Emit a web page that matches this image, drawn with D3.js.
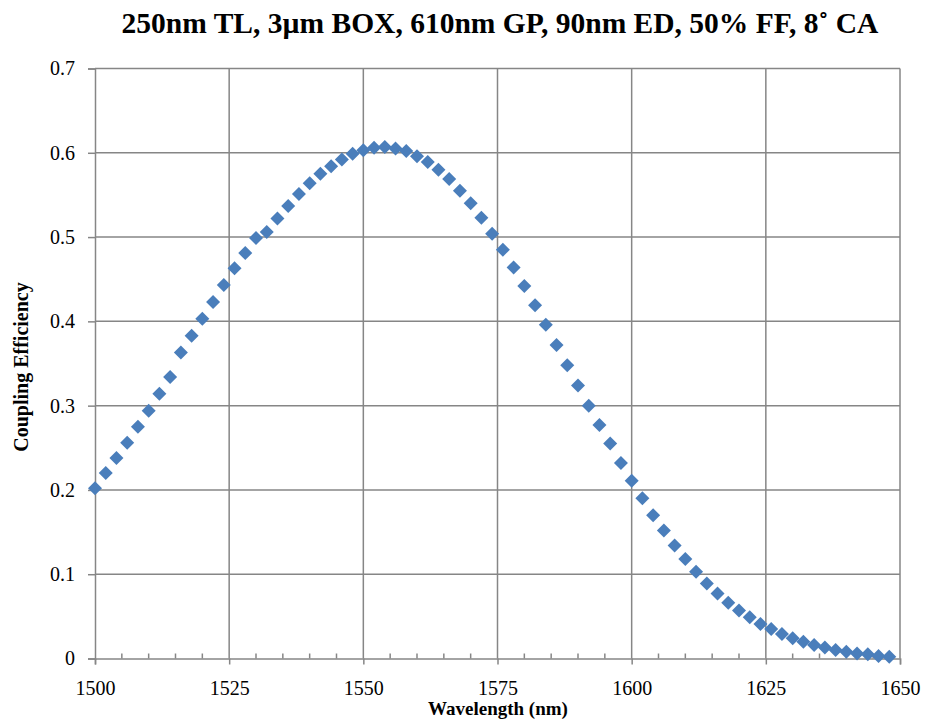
<!DOCTYPE html>
<html>
<head>
<meta charset="utf-8">
<script src="https://cdn.jsdelivr.net/npm/d3@7"></script>
<style>
  body { margin: 0; background: #fff; }
  text { font-family: "Liberation Serif", "Times New Roman", serif; fill: #000; }
</style>
</head>
<body>
<svg id="chart"></svg>
<script>
const wavelength = d3.range(1500, 1650, 2);
const efficiency = [
  0.202, 0.220, 0.238, 0.256, 0.275, 0.294, 0.314, 0.334, 0.363, 0.383,
  0.403, 0.423, 0.443, 0.463, 0.481, 0.499, 0.506, 0.522, 0.537, 0.551,
  0.564, 0.575, 0.584, 0.592, 0.599, 0.603, 0.606, 0.607, 0.605, 0.602,
  0.596, 0.589, 0.580, 0.569, 0.555, 0.540, 0.523, 0.504, 0.485, 0.464,
  0.442, 0.419, 0.396, 0.372, 0.348, 0.324, 0.300, 0.277, 0.255, 0.232,
  0.211, 0.190, 0.170, 0.152, 0.134, 0.118, 0.103, 0.089, 0.077, 0.066,
  0.057, 0.049, 0.041, 0.035, 0.029, 0.024, 0.020, 0.016, 0.013, 0.010,
  0.008, 0.006, 0.005, 0.003, 0.002
];
const xTicks = [1500, 1525, 1550, 1575, 1600, 1625, 1650];
const yTicks = [0, 0.1, 0.2, 0.3, 0.4, 0.5, 0.6, 0.7];

const width = 927, height = 720;
const margin = { top: 68.5, right: 27, bottom: 61.5, left: 95 };

const svg = d3.select("#chart").attr("width", width).attr("height", height);

const x = d3.scaleLinear().domain([1500, 1650]).range([margin.left, width - margin.right]);
const y = d3.scaleLinear().domain([0, 0.7]).range([height - margin.bottom, margin.top]);

const gridColor = "#868686";

// gridlines
svg.append("g")
  .selectAll("line.h")
  .data(yTicks.slice(1))
  .join("line")
  .attr("x1", margin.left).attr("x2", width - margin.right)
  .attr("y1", d => y(d)).attr("y2", d => y(d))
  .attr("stroke", gridColor).attr("stroke-width", 1.5);

svg.append("g")
  .selectAll("line.v")
  .data(xTicks.slice(1))
  .join("line")
  .attr("x1", d => x(d)).attr("x2", d => x(d))
  .attr("y1", margin.top).attr("y2", y(0))
  .attr("stroke", gridColor).attr("stroke-width", 1.5);

// x axis
const xAxis = svg.append("g")
  .attr("transform", `translate(0,${y(0)})`)
  .call(d3.axisBottom(x).tickValues(xTicks).tickFormat(d3.format("d")).tickSize(6).tickPadding(16));
xAxis.select(".domain").attr("stroke", gridColor).attr("stroke-width", 1.5);
xAxis.selectAll(".tick line").attr("stroke", gridColor).attr("stroke-width", 1.5);
xAxis.selectAll("text").style("font-size", "20px").style("font-family", "Liberation Serif");

// minor ticks on x axis (inside)
svg.append("g")
  .selectAll("line")
  .data(d3.range(1505, 1650, 5).filter(d => d % 25 !== 0))
  .join("line")
  .attr("x1", d => x(d)).attr("x2", d => x(d))
  .attr("y1", y(0) - 5).attr("y2", y(0))
  .attr("stroke", gridColor).attr("stroke-width", 1.5);

// y axis
const yAxis = svg.append("g")
  .attr("transform", `translate(${margin.left},0)`)
  .call(d3.axisLeft(y).tickValues(yTicks).tickFormat(d => d === 0 ? "0" : d3.format(".1f")(d)).tickSize(7).tickPadding(13));
yAxis.select(".domain").attr("stroke", gridColor).attr("stroke-width", 1.5);
yAxis.selectAll(".tick line").attr("stroke", gridColor).attr("stroke-width", 1.5);
yAxis.selectAll("text").style("font-size", "20px").style("font-family", "Liberation Serif");

// points
const diamond = d3.symbol().type(d3.symbolSquare).size(98);
svg.append("g")
  .selectAll("path")
  .data(wavelength.map((w, i) => [w, efficiency[i]]))
  .join("path")
  .attr("d", diamond)
  .attr("transform", d => `translate(${x(d[0])},${y(d[1])}) rotate(45)`)
  .attr("fill", "#4a7ebb");

// title
svg.append("text")
  .attr("x", 500).attr("y", 33)
  .attr("text-anchor", "middle")
  .style("font-size", "29.5px").style("font-weight", "bold")
  .text("250nm TL, 3µm BOX, 610nm GP, 90nm ED, 50% FF, 8˚ CA");

// axis titles
svg.append("text")
  .attr("x", 498).attr("y", 715)
  .attr("text-anchor", "middle")
  .style("font-size", "19px").style("font-weight", "bold")
  .text("Wavelength (nm)");

svg.append("text")
  .attr("transform", `translate(28,367) rotate(-90)`)
  .attr("text-anchor", "middle")
  .style("font-size", "20px").style("font-weight", "bold")
  .text("Coupling Efficiency");
</script>
</body>
</html>
